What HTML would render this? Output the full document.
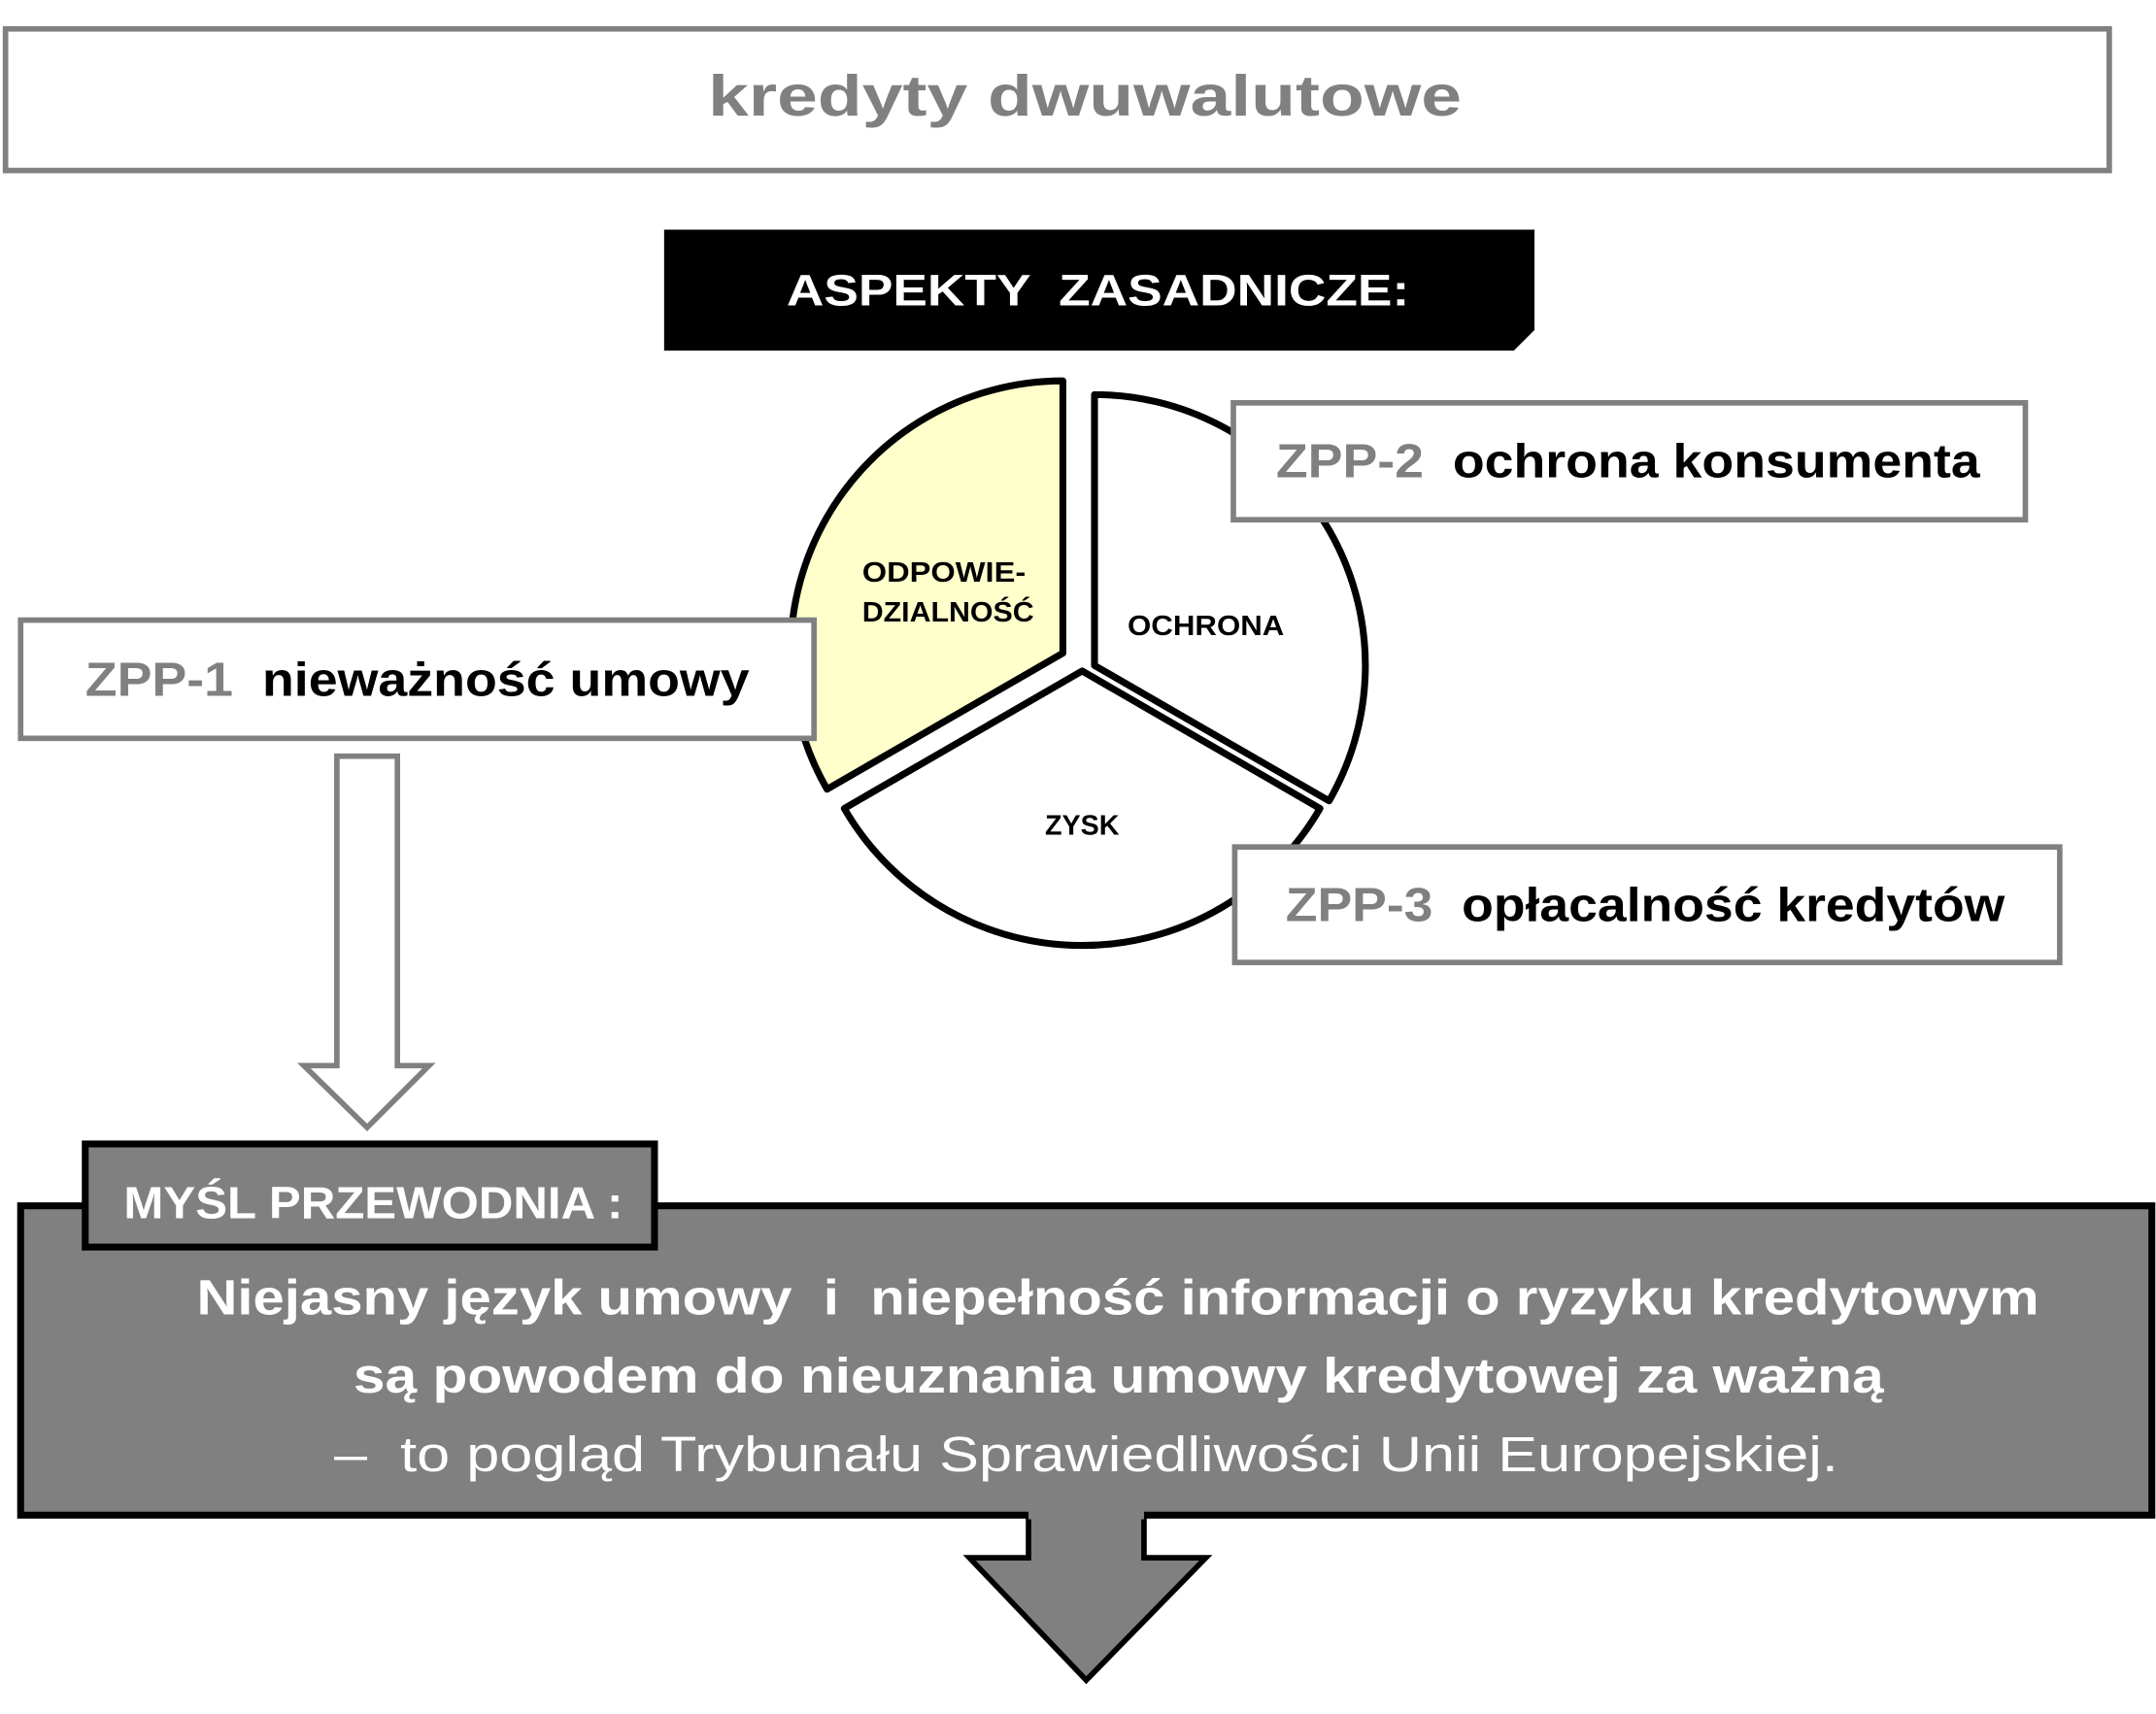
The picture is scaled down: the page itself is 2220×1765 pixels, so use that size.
<!DOCTYPE html>
<html><head><meta charset="utf-8"><style>html,body{margin:0;padding:0;background:#fff}svg{display:block}text{font-family:"Liberation Sans",sans-serif;font-weight:bold}</style></head>
<body>
<svg width="2220" height="1765" viewBox="0 0 1568 1246.6" xmlns="http://www.w3.org/2000/svg">
<rect x="0" y="0" width="1568" height="1247" fill="#fff"/>
<rect x="4" y="21" width="1530" height="103" fill="#fff" stroke="#808080" stroke-width="4"/>
<text x="515" y="84" font-size="42" fill="#808080" textLength="548" lengthAdjust="spacingAndGlyphs">kredyty dwuwalutowe</text>
<path d="M483 167 H1116 V240 L1101 255 H483 Z" fill="#000"/>
<text x="572" y="222" font-size="32" fill="#fff" textLength="453" lengthAdjust="spacingAndGlyphs" xml:space="preserve">ASPEKTY  ZASADNICZE:</text>
<!-- pie -->
<path d="M773 475 L601.5 574 A198 198 0 0 1 773 277 Z" fill="#ffffcc" stroke="#000" stroke-width="5" stroke-linejoin="round"/>
<path d="M796 484 L796 287 A197 197 0 0 1 966.6 582.5 Z" fill="#fff" stroke="#000" stroke-width="5" stroke-linejoin="round"/>
<path d="M787 488 L960 588 A200 200 0 0 1 614 588 Z" fill="#fff" stroke="#000" stroke-width="5" stroke-linejoin="round"/>
<text x="627" y="423" font-size="20" fill="#000" textLength="119" lengthAdjust="spacingAndGlyphs">ODPOWIE-</text>
<text x="627" y="452" font-size="20" fill="#000" textLength="125" lengthAdjust="spacingAndGlyphs">DZIALNOŚĆ</text>
<text x="820" y="462" font-size="20" fill="#000" textLength="114" lengthAdjust="spacingAndGlyphs">OCHRONA</text>
<text x="760" y="607" font-size="20" fill="#000" textLength="54" lengthAdjust="spacingAndGlyphs">ZYSK</text>
<!-- ZPP boxes -->
<rect x="897" y="293" width="576" height="85" fill="#fff" stroke="#808080" stroke-width="4"/>
<text x="928" y="347" font-size="35" fill="#000" textLength="512" lengthAdjust="spacingAndGlyphs" xml:space="preserve"><tspan fill="#808080">ZPP-2</tspan>  ochrona konsumenta</text>
<rect x="898" y="616" width="600" height="84" fill="#fff" stroke="#808080" stroke-width="4"/>
<text x="935" y="670" font-size="35" fill="#000" textLength="523" lengthAdjust="spacingAndGlyphs" xml:space="preserve"><tspan fill="#808080">ZPP-3</tspan>  opłacalność kredytów</text>
<rect x="15" y="451" width="577" height="86" fill="#fff" stroke="#808080" stroke-width="4"/>
<text x="62" y="506" font-size="35" fill="#000" textLength="483" lengthAdjust="spacingAndGlyphs" xml:space="preserve"><tspan fill="#808080">ZPP-1</tspan>  nieważność umowy</text>
<!-- hollow arrow -->
<path d="M245 550 H289 V775 H312 L267 820 L221 775 H245 Z" fill="#fff" stroke="#808080" stroke-width="4" stroke-linejoin="miter"/>
<!-- main box -->
<rect x="15" y="877" width="1550" height="225" fill="#808080" stroke="#000" stroke-width="5"/>
<path d="M748 1100 V1133 H705 L790 1222 L877 1133 H832 V1100" fill="#808080" stroke="#000" stroke-width="4"/>
<rect x="748" y="1097" width="84" height="8" fill="#808080"/>
<rect x="62" y="832" width="414" height="75" fill="#808080" stroke="#000" stroke-width="5"/>
<text x="90" y="886" font-size="33" fill="#fff" textLength="363" lengthAdjust="spacingAndGlyphs">MYŚL PRZEWODNIA :</text>
<text x="143" y="956" font-size="36" fill="#fff" textLength="1340" lengthAdjust="spacingAndGlyphs" xml:space="preserve">Niejasny język umowy  i  niepełność informacji o ryzyku kredytowym</text>
<text x="257" y="1013" font-size="36" fill="#fff" textLength="1113" lengthAdjust="spacingAndGlyphs">są powodem do nieuznania umowy kredytowej za ważną</text>
<text x="243" y="1070" font-size="36" fill="#fff" font-weight="normal" style="font-weight:normal" textLength="1094" lengthAdjust="spacingAndGlyphs" xml:space="preserve">–  to pogląd Trybunału Sprawiedliwości Unii Europejskiej.</text>
</svg>
</body></html>
